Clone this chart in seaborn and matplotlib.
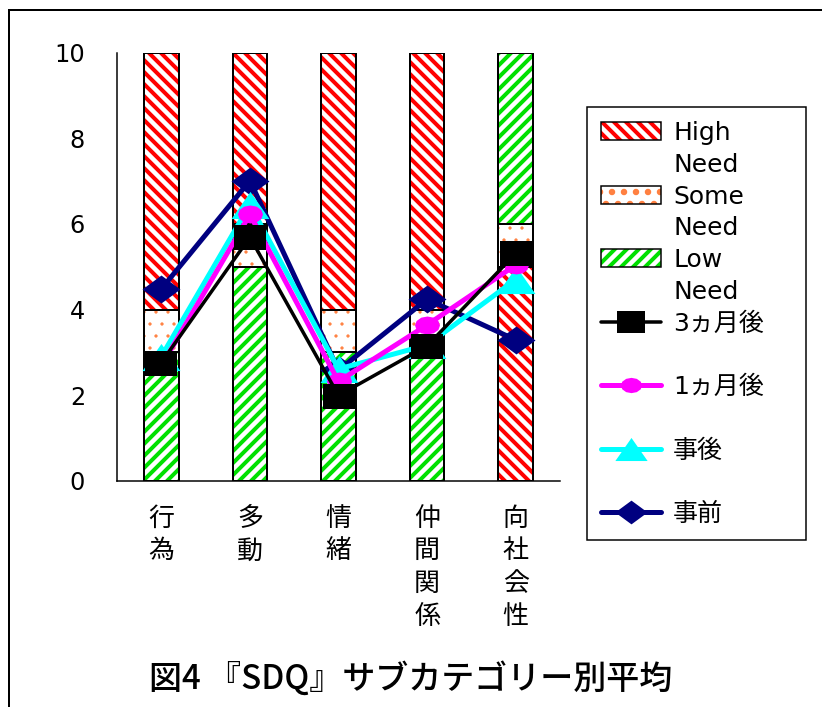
import matplotlib
matplotlib.use("Agg")
import pandas as pd
import matplotlib.pyplot as plt
from matplotlib.patches import Patch, Rectangle
from matplotlib.lines import Line2D
from matplotlib.legend_handler import HandlerTuple
import seaborn as sns

# SDQ sub categories
categories = ['行為', '多動', '情緒', '仲間関係', '向社会性']

# need bands (bottom / top of each band per category)
high_bottom = [4, 6, 4, 4, 0]
high_top = [10, 10, 10, 10, 5]
some_bottom = [3, 5, 3, 3, 5]
some_top = [4, 6, 4, 4, 6]
low_bottom = [0, 0, 0, 0, 6]
low_top = [3, 5, 3, 3, 10]

# mean scores per time point
pre = [4.48, 7.01, 2.58, 4.24, 3.29]       # 事前
post = [2.90, 6.45, 2.61, 3.17, 4.70]      # 事後
month1 = [2.68, 6.22, 2.32, 3.64, 5.04]    # 1ヵ月後
month3 = [2.76, 5.69, 1.99, 3.15, 5.31]    # 3ヵ月後

sns.set_style('white')
plt.rcParams['font.family'] = ['DejaVu Sans', 'Noto Sans CJK JP']
plt.rcParams['text.color'] = 'black'
plt.rcParams['hatch.linewidth'] = 4
jp = ['Noto Sans CJK JP', 'DejaVu Sans']

# hatch styles of the need levels
level_style = {
    'High': dict(color='#FF0000', hatch='\\\\', hlw=4),
    'Some': dict(color='#FF8040', hatch='.', hlw=0.8),
    'Low': dict(color='#00E000', hatch='//', hlw=4),
}

fig = plt.figure(figsize=(822 / 72, 707 / 72), dpi=72)
ax = fig.add_axes([117 / 822, 1 - 480.7 / 707, 443 / 822, 428 / 707])

bands = pd.DataFrame({
    'category': categories * 3,
    'level': ['High'] * 5 + ['Some'] * 5 + ['Low'] * 5,
    'bottom': high_bottom + some_bottom + low_bottom,
    'top': high_top + some_top + low_top,
})
# draw the tallest band first, lower ones on top of it
bands['layer'] = bands.groupby('category')['top'].rank(ascending=False, method='first').astype(int)

for layer, d in bands.groupby('layer'):
    d = d.set_index('category').loc[categories]
    sns.barplot(x=list(d.index), y=d['top'].values, order=categories, color='white',
                width=0.39, linewidth=0, ax=ax)
    for bar, lvl in zip(ax.containers[-1], d['level']):
        st = level_style[lvl]
        bar.set_hatch(st['hatch'])
        bar.set_edgecolor(st['color'])
        if hasattr(bar, 'set_hatch_linewidth'):
            bar.set_hatch_linewidth(st['hlw'])
    sns.barplot(x=list(d.index), y=d['top'].values, order=categories, fill=False,
                color='black', width=0.39, linewidth=2, ax=ax)

# marker shapes (slightly wide, like the original)
square = [(-1.28, -1), (1.28, -1), (1.28, 1), (-1.28, 1), (-1.28, -1)]
diamond = [(-1.36, 0), (0, 1), (1.36, 0), (0, -1), (-1.36, 0)]
triangle = [(-1.4, -1), (1.4, -1), (0, 1), (-1.4, -1)]
ellipse = [(1.39 * c, s) for c, s in
           [(1, 0), (0.87, 0.5), (0.5, 0.87), (0, 1), (-0.5, 0.87), (-0.87, 0.5), (-1, 0),
            (-0.87, -0.5), (-0.5, -0.87), (0, -1), (0.5, -0.87), (0.87, -0.5), (1, 0)]]

series = [
    ('事前', pre, '#000080', diamond, 38, 5),
    ('事後', post, '#00FFFF', triangle, 38, 5),
    ('1ヵ月後', month1, '#FF00FF', ellipse, 25, 5),
    ('3ヵ月後', month3, '#000000', square, 32, 3.5),
]
line_handles = {}
for name, vals, col, mk, ms, lw in series:
    sns.pointplot(x=categories, y=vals, order=categories, color=col, marker=mk,
                  markersize=ms, linewidth=lw, markeredgewidth=0, errorbar=None, ax=ax)
    line_handles[name] = Line2D([], [], color=col, marker=mk, markersize=ms,
                                linewidth=lw, markeredgewidth=0)

ax.set_xlim(-0.5, 4.5)
ax.set_ylim(0, 10)
ax.set_yticks(range(0, 11, 2))
ax.set_xticks(range(len(categories)), ['\n'.join(c) for c in categories],
              family=jp, fontsize=26, va='top', linespacing=1.27)
ax.set_xticks([0.5, 1.5, 2.5, 3.5], minor=True)
ax.tick_params(axis='x', which='major', length=0, pad=24, labelcolor='black')
ax.tick_params(axis='x', which='minor', direction='in', length=8, width=1.5, color='black')
ax.tick_params(axis='y', direction='in', length=10, width=1.5, pad=32, labelsize=24,
               color='black', labelcolor='black')
ax.set_xlabel('')
ax.set_ylabel('')
for s in ['top', 'right']:
    ax.spines[s].set_visible(False)
for s in ['left', 'bottom']:
    ax.spines[s].set_linewidth(1.5)
    ax.spines[s].set_color('black')

# legend: band patches and lines, with extra rows like the original
def band_handle(lvl):
    st = level_style[lvl]
    return (Patch(facecolor='white', edgecolor=st['color'], hatch=st['hatch'], linewidth=0),
            Patch(fill=False, edgecolor='black', linewidth=1.5))

blank = Line2D([], [], linestyle='none')
handles = [band_handle('High'), blank, band_handle('Some'), blank, band_handle('Low'), blank,
           line_handles['3ヵ月後'], blank, line_handles['1ヵ月後'], blank,
           line_handles['事後'], blank, line_handles['事前']]
labels = ['High', 'Need', 'Some', 'Need', 'Low', 'Need',
          '3ヵ月後', ' ', '1ヵ月後', ' ', '事後', ' ', '事前']
leg = fig.legend(handles, labels, loc='upper left', mode='expand',
                 bbox_to_anchor=(587 / 822, 1 - 108 / 707, 219 / 822, 0.001),
                 bbox_transform=fig.transFigure, borderaxespad=0, fontsize=25,
                 handlelength=2.4, handleheight=0.75, handletextpad=0.5,
                 labelspacing=0.31, borderpad=0.55, markerscale=0.85,
                 fancybox=False, framealpha=1, edgecolor='black',
                 handler_map={tuple: HandlerTuple(ndivide=1)})
leg.get_frame().set_linewidth(1.5)

fig.text(0.5, 1 - 679 / 707, '図4 『SDQ』サブカテゴリー別平均', ha='center', va='center',
         fontsize=33, fontweight='medium', family=jp)

# outer frame of the picture
fig.add_artist(Rectangle((9 / 822, -0.05), 1.1, 1 - 10 / 707 + 0.05, transform=fig.transFigure,
                         fill=False, edgecolor='black', linewidth=2))

fig.savefig('out.png', dpi=72)
